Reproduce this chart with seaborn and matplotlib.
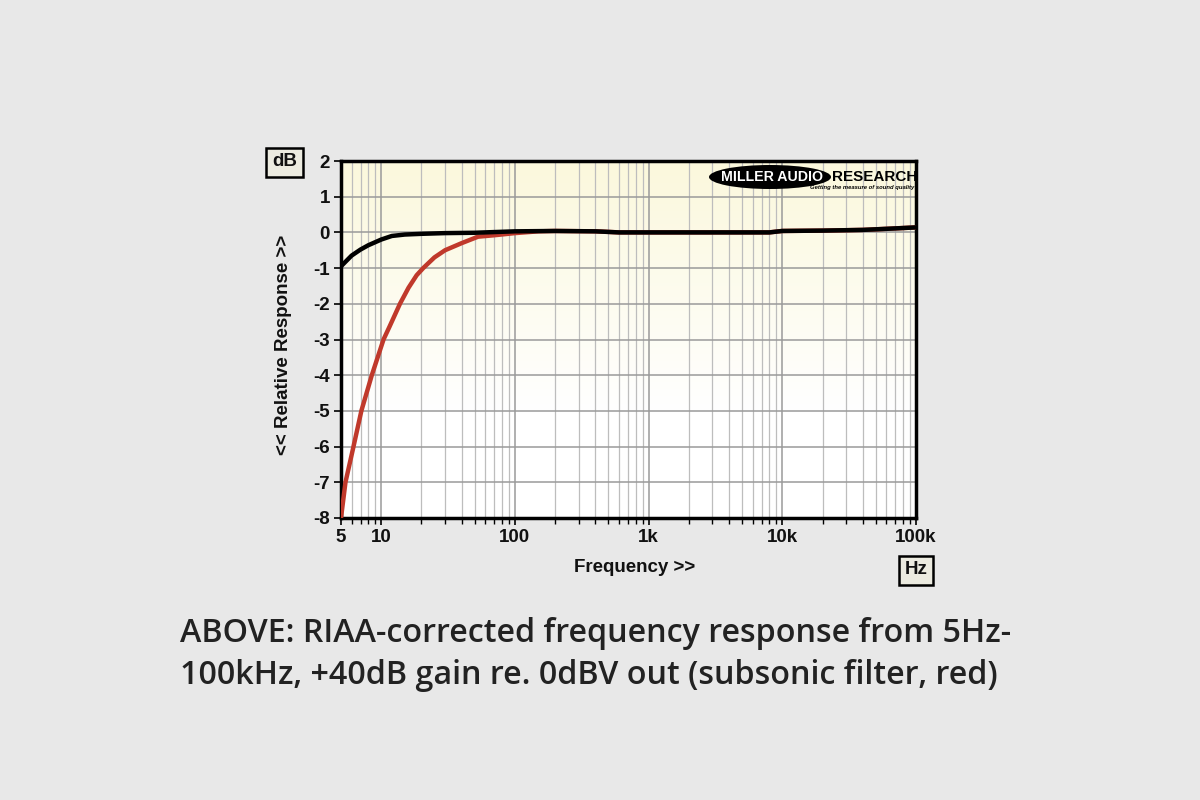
import numpy as np
import pandas as pd
import matplotlib
matplotlib.use("Agg")
import matplotlib.pyplot as plt
import seaborn as sns
from matplotlib.patches import Ellipse
from matplotlib.colors import LinearSegmentedColormap
from matplotlib.ticker import FixedLocator, NullFormatter

# ---- data ----
freq_black = [5, 6, 7, 8, 10, 12, 15, 20, 30, 50, 100, 200, 400, 600, 1000,
              3000, 8000, 10000, 20000, 40000, 60000, 100000]
resp_black = [-0.95, -0.65, -0.48, -0.36, -0.2, -0.1, -0.06, -0.04, -0.02, -0.01,
              0.03, 0.04, 0.03, 0.0, 0.0, 0.0, 0.0, 0.04, 0.05, 0.07, 0.1, 0.14]

freq_red = [5, 5.4, 6.2, 7.1, 8.5, 10.4, 11.5, 13.8, 16, 18.4, 20.6, 25, 30,
            40, 53, 70, 100, 150, 200, 400, 600, 1000, 3000, 8000, 10000,
            20000, 40000, 60000, 100000]
resp_red = [-8.0, -7.0, -6.0, -5.0, -4.0, -3.0, -2.65, -2.0, -1.55, -1.2, -1.0,
            -0.7, -0.5, -0.3, -0.12, -0.08, -0.02, 0.03, 0.04, 0.03, 0.0, 0.0,
            0.0, 0.0, 0.04, 0.05, 0.07, 0.1, 0.14]

y_ticks = [2, 1, 0, -1, -2, -3, -4, -5, -6, -7, -8]
x_ticks = [5, 10, 100, 1000, 10000, 100000]
x_tick_labels = ["5", "10", "100", "1k", "10k", "100k"]

caption_lines = ["ABOVE: RIAA-corrected frequency response from 5Hz-",
                 "100kHz, +40dB gain re. 0dBV out (subsonic filter, red)"]

# ---- style ----
sns.set_style("white")
plt.rcParams["font.family"] = ["Liberation Sans", "DejaVu Sans"]

fig = plt.figure(figsize=(12, 8), dpi=100, facecolor="#e8e8e8")
ax = fig.add_axes([341 / 1200, 1 - 518 / 800, 575 / 1200, 357 / 800])

# gradient background
cmap = LinearSegmentedColormap.from_list(
    "bg", [(0.0, "#ffffff"), (0.3, "#ffffff"), (1.0, "#fbf8dc")])
grad = np.linspace(0, 1, 256).reshape(-1, 1)
ax.imshow(grad, aspect="auto", cmap=cmap, origin="lower",
          extent=[0, 1, 0, 1], transform=ax.transAxes, zorder=0)

df_red = pd.DataFrame({"f": freq_red, "dB": resp_red})
df_black = pd.DataFrame({"f": freq_black, "dB": resp_black})
sns.lineplot(data=df_red, x="f", y="dB", ax=ax, color="#c0392b", lw=3.2,
             zorder=3)
sns.lineplot(data=df_black, x="f", y="dB", ax=ax, color="#000000", lw=3.2,
             zorder=4)

ax.set_xscale("log")
ax.set_xlim(5, 100000)
ax.set_ylim(-8, 2)

ax.set_yticks(y_ticks)
ax.set_yticklabels([str(v) for v in y_ticks])
ax.xaxis.set_major_locator(FixedLocator(x_ticks))
ax.set_xticklabels(x_tick_labels)
minor = [m * 10 ** e for e in range(0, 5) for m in range(2, 10)
         if 5 <= m * 10 ** e <= 100000 and m * 10 ** e not in x_ticks]
ax.xaxis.set_minor_locator(FixedLocator(minor))
ax.xaxis.set_minor_formatter(NullFormatter())

ax.grid(which="major", axis="both", color="#9a9a9a", lw=1.1, zorder=1)
ax.grid(which="minor", axis="x", color="#bdbdbd", lw=0.9, zorder=1)
ax.set_axisbelow(True)

for s in ax.spines.values():
    s.set_color("black")
    s.set_linewidth(2.5)
    s.set_visible(True)

ax.tick_params(axis="both", which="major", direction="out", length=5,
               width=1.2, color="black", labelsize=13.5, pad=3)
ax.tick_params(axis="x", which="minor", direction="out", length=4,
               width=1.0, color="black", bottom=True)
ax.tick_params(axis="x", which="major", bottom=True)
ax.tick_params(axis="y", which="major", left=True)
for lab in ax.get_xticklabels() + ax.get_yticklabels():
    lab.set_fontweight("bold")
    lab.set_color("#111111")

ax.set_xlabel("")
ax.set_ylabel("")

fig.text(283 / 1200, 1 - 345 / 800, "<< Relative Response >>", rotation=90,
         ha="center", va="center", fontsize=13.5, fontweight="bold",
         color="#111111")
fig.text(635 / 1200, 1 - 568 / 800, "Frequency >>", ha="center",
         va="center", fontsize=13.5, fontweight="bold", color="#111111")

box = dict(boxstyle="square,pad=0.32", fc="#ecebe0", ec="black", lw=1.8)
fig.text(284.5 / 1200, 1 - 162 / 800, "dB", ha="center", va="center",
         fontsize=13.5, fontweight="bold", color="#111111", bbox=box)
fig.text(916 / 1200, 1 - 570 / 800, "Hz", ha="center", va="center",
         fontsize=13.5, fontweight="bold", color="#111111", bbox=box)

# logo
ell = Ellipse((770 / 1200, 1 - 177 / 800), 122 / 1200, 24 / 800,
              transform=fig.transFigure, fc="black", ec="none", zorder=5)
fig.add_artist(ell)
fig.text(772 / 1200, 1 - 177 / 800, "MILLER AUDIO", ha="center",
         va="center", fontsize=10.2, fontweight="heavy", color="white",
         zorder=6)
fig.text(832 / 1200, 1 - 177 / 800, "RESEARCH", ha="left", va="center",
         fontsize=11, fontweight="heavy", color="black", zorder=6)
fig.text(914 / 1200, 1 - 188 / 800, "Getting the measure of sound quality",
         ha="right", va="center", fontsize=4.2, fontweight="bold",
         style="italic", color="black", zorder=6)

for i, line in enumerate(caption_lines):
    fig.text(180 / 1200, 1 - (633 + 43 * i) / 800, line, ha="left",
             va="center", fontsize=23.2, color="#222222",
             fontweight="semibold",
             family=["Open Sans", "Noto Sans", "DejaVu Sans"])

fig.savefig("out.png", dpi=100, facecolor=fig.get_facecolor())
